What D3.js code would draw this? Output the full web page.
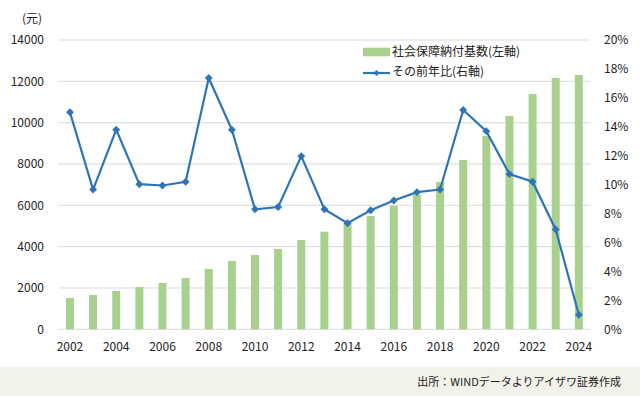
<!DOCTYPE html>
<meta charset="utf-8">
<script src="https://d3js.org/d3.v7.min.js"></script>
<style>
  body { margin: 0; background: #fff; }
  svg text { font-family: "Noto Sans CJK JP", "Noto Sans", sans-serif; fill: #222; }
</style>
<div id="chart"></div>
<script>
// data
const years = [2002, 2003, 2004, 2005, 2006, 2007, 2008, 2009, 2010, 2011, 2012, 2013,
               2014, 2015, 2016, 2017, 2018, 2019, 2020, 2021, 2022, 2023, 2024];
const baseValues = [1515, 1660, 1854, 2047, 2241, 2483, 2918, 3306, 3596, 3886, 4322, 4724,
                    5130, 5484, 5968, 6515, 7130, 8194, 9356, 10324, 11389, 12163, 12308];
const yoyPct = [15.0, 9.66, 13.8, 10.03, 9.94, 10.2, 17.37, 13.8, 8.3, 8.45, 11.97, 8.3,
                7.33, 8.23, 8.9, 9.48, 9.66, 15.16, 13.7, 10.73, 10.2, 6.9, 1.0];
const leftTicks = [0, 2000, 4000, 6000, 8000, 10000, 12000, 14000];
const rightTicks = [0, 2, 4, 6, 8, 10, 12, 14, 16, 18, 20];
const xTickYears = [2002, 2004, 2006, 2008, 2010, 2012, 2014, 2016, 2018, 2020, 2022, 2024];
const legendLabels = ["社会保障納付基数(左軸)", "その前年比(右軸)"];

const W = 640, H = 396;
const plot = {left: 58.4, right: 590.4, top: 40, bottom: 329.3};
const barColor = "#a9d18e", lineColor = "#2e75b6", gridColor = "#d9d9d9";

const svg = d3.select("#chart").append("svg")
  .attr("width", W).attr("height", H);

// footer band
svg.append("rect").attr("x", 0).attr("y", 367).attr("width", W).attr("height", H - 367)
  .attr("fill", "#f3f2ea");
svg.append("text").attr("x", 621).attr("y", 382).attr("dy", "0.35em")
  .attr("text-anchor", "end").style("font-size", "11px")
  .text("出所：WINDデータよりアイザワ証券作成");

const x = d3.scaleBand().domain(years).range([plot.left, plot.right]);
const yL = d3.scaleLinear().domain([0, 14000]).range([plot.bottom, plot.top]);
const yR = d3.scaleLinear().domain([0, 20]).range([plot.bottom, plot.top]);

// gridlines
svg.append("g").selectAll("line").data(leftTicks).join("line")
  .attr("x1", plot.left).attr("x2", plot.right)
  .attr("y1", d => yL(d)).attr("y2", d => yL(d))
  .attr("stroke", gridColor).attr("stroke-width", 1);

// left labels
svg.append("g").selectAll("text").data(leftTicks).join("text")
  .attr("x", 44).attr("y", d => yL(d)).attr("dy", "0.35em")
  .attr("text-anchor", "end").style("font-size", "12px")
  .text(d => d);
svg.append("text").attr("x", 32).attr("y", 19).attr("dy", "0.35em")
  .attr("text-anchor", "middle").style("font-size", "12px").text("(元)");

// right labels
svg.append("g").selectAll("text").data(rightTicks).join("text")
  .attr("x", 604).attr("y", d => yR(d)).attr("dy", "0.35em")
  .style("font-size", "12px")
  .text(d => d + "%");

// x labels
svg.append("g").selectAll("text").data(xTickYears).join("text")
  .attr("x", d => x(d) + x.bandwidth() / 2).attr("y", 347).attr("dy", "0.35em")
  .attr("text-anchor", "middle").style("font-size", "12px")
  .text(d => d);

// bars
const barW = 8;
svg.append("g").selectAll("rect").data(years).join("rect")
  .attr("x", (d) => x(d) + x.bandwidth() / 2 - barW / 2)
  .attr("width", barW)
  .attr("y", (d, i) => yL(baseValues[i]))
  .attr("height", (d, i) => plot.bottom - yL(baseValues[i]))
  .attr("fill", barColor);

// line
const line = d3.line()
  .x((d, i) => x(years[i]) + x.bandwidth() / 2)
  .y(d => yR(d));
svg.append("path").datum(yoyPct)
  .attr("d", line).attr("fill", "none")
  .attr("stroke", lineColor).attr("stroke-width", 2.2);

const diamond = d3.symbol().type(d3.symbolDiamond2).size(40);
svg.append("g").selectAll("path").data(yoyPct).join("path")
  .attr("d", diamond)
  .attr("transform", (d, i) => `translate(${x(years[i]) + x.bandwidth() / 2},${yR(d)})`)
  .attr("fill", lineColor);

// legend
svg.append("rect").attr("x", 363).attr("y", 47.7).attr("width", 27).attr("height", 8.6)
  .attr("fill", barColor);
svg.append("text").attr("x", 392).attr("y", 51.5).attr("dy", "0.35em")
  .style("font-size", "12px").text(legendLabels[0]);
svg.append("line").attr("x1", 363).attr("x2", 390).attr("y1", 73).attr("y2", 73)
  .attr("stroke", lineColor).attr("stroke-width", 2.2);
svg.append("path").attr("d", d3.symbol().type(d3.symbolDiamond2).size(24))
  .attr("transform", "translate(376.5,73)").attr("fill", lineColor);
svg.append("text").attr("x", 392).attr("y", 72).attr("dy", "0.35em")
  .style("font-size", "12px").text(legendLabels[1]);
</script>
